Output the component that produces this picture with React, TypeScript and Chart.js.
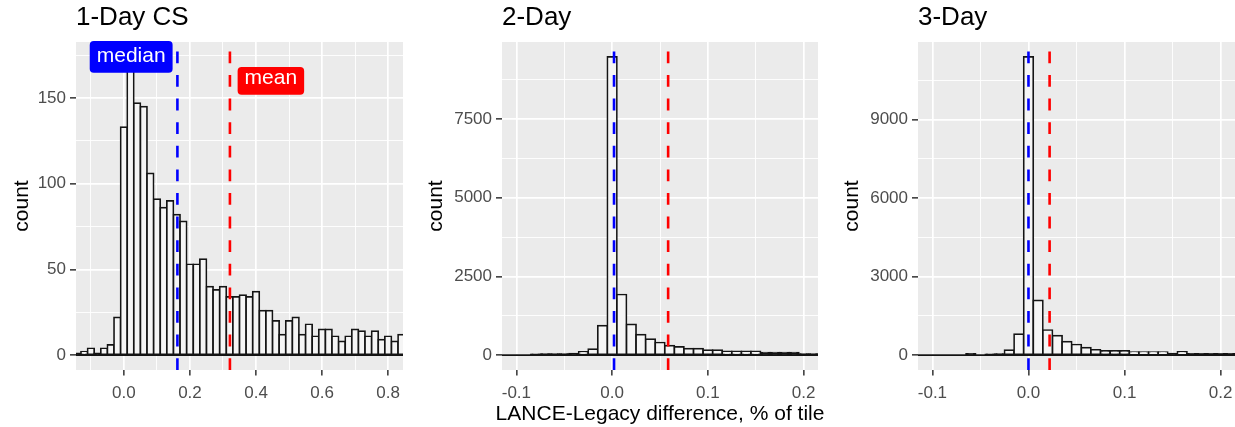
import React, { useEffect, useRef } from "react";
import { Chart, registerables } from "chart.js";

Chart.register(...registerables);

const FONT = "'Liberation Sans', Arial, Helvetica, sans-serif";

// ---------- Panel 1: 1-Day CS (bin width 0.02) ----------
const bins1 = [-0.14, -0.12, -0.10, -0.08, -0.06, -0.04, -0.02, 0.00, 0.02, 0.04, 0.06, 0.08, 0.10, 0.12, 0.14, 0.16, 0.18, 0.20, 0.22, 0.24, 0.26, 0.28, 0.30, 0.32, 0.34, 0.36, 0.38, 0.40, 0.42, 0.44, 0.46, 0.48, 0.50, 0.52, 0.54, 0.56, 0.58, 0.60, 0.62, 0.64, 0.66, 0.68, 0.70, 0.72, 0.74, 0.76, 0.78, 0.80, 0.82, 0.84];
const counts1 = [1, 2, 4, 1, 4, 6, 22, 133, 172, 147, 145, 106, 91, 86, 90, 82, 78, 53, 53, 56, 40, 38, 40, 34, 34, 35, 34, 37, 26, 26, 20, 12, 20, 22, 12, 18, 11, 15, 15, 11, 8, 11, 15, 14, 11, 14, 9, 11, 8, 12];
const median1 = 0.162;
const mean1 = 0.321;
const xLimits1 = [-0.1, 0.8];
const yLimits1 = [0, 174];
const xMajor1 = [0, 0.2, 0.4, 0.6, 0.8];
const xMajorLabels1 = ["0.0", "0.2", "0.4", "0.6", "0.8"];
const xMinor1 = [-0.1, 0.1, 0.3, 0.5, 0.7];
const yMajor1 = [0, 50, 100, 150];
const yMinor1 = [25, 75, 125, 175];
const statLabels1 = [
  { text: "median", x: 0.022, y: 174, color: "#0000FF" },
  { text: "mean", x: 0.445, y: 160, color: "#FF0000" },
];

// ---------- Panel 2: 2-Day (bin width 0.01) ----------
const bins2 = [-0.12, -0.11, -0.10, -0.09, -0.08, -0.07, -0.06, -0.05, -0.04, -0.03, -0.02, -0.01, 0.00, 0.01, 0.02, 0.03, 0.04, 0.05, 0.06, 0.07, 0.08, 0.09, 0.10, 0.11, 0.12, 0.13, 0.14, 0.15, 0.16, 0.17, 0.18, 0.19, 0.20, 0.21, 0.22];
const counts2 = [0, 0, 0, 0, 25, 30, 30, 35, 45, 105, 190, 935, 9470, 1925, 975, 650, 505, 400, 300, 262, 205, 205, 160, 160, 115, 115, 115, 115, 78, 78, 78, 78, 30, 30, 35];
const median2 = 0.002;
const mean2 = 0.0585;
const xLimits2 = [-0.1, 0.2];
const yLimits2 = [0, 9470];
const xMajor2 = [-0.1, 0, 0.1, 0.2];
const xMajorLabels2 = ["-0.1", "0.0", "0.1", "0.2"];
const xMinor2 = [-0.05, 0.05, 0.15];
const yMajor2 = [0, 2500, 5000, 7500];
const yMinor2 = [1250, 3750, 6250, 8750];

// ---------- Panel 3: 3-Day (bin width 0.01) ----------
const bins3 = [-0.12, -0.11, -0.10, -0.09, -0.08, -0.07, -0.06, -0.05, -0.04, -0.03, -0.02, -0.01, 0.00, 0.01, 0.02, 0.03, 0.04, 0.05, 0.06, 0.07, 0.08, 0.09, 0.10, 0.11, 0.12, 0.13, 0.14, 0.15, 0.16, 0.17, 0.18, 0.19, 0.20, 0.21, 0.22];
const counts3 = [0, 0, 0, 0, 0, 0, 50, 0, 30, 40, 190, 800, 11400, 2090, 960, 745, 515, 405, 285, 205, 165, 165, 165, 115, 115, 115, 115, 60, 125, 45, 45, 45, 45, 45, 45];
const median3 = 0.0;
const mean3 = 0.022;
const xLimits3 = [-0.1, 0.2];
const yLimits3 = [0, 11400];
const xMajor3 = [-0.1, 0, 0.1, 0.2];
const xMajorLabels3 = ["-0.1", "0.0", "0.1", "0.2"];
const xMinor3 = [-0.05, 0.05, 0.15];
const yMajor3 = [0, 3000, 6000, 9000];
const yMinor3 = [1500, 4500, 7500, 10500];

const X_TITLE = "LANCE-Legacy difference, % of tile";

const OUTLINE = "#141414";

const panelBg = {
  id: "panelBg",
  beforeDraw(chart: any) {
    const { ctx, chartArea: a } = chart;
    ctx.save();
    ctx.fillStyle = "#EBEBEB";
    ctx.fillRect(a.left, a.top, a.right - a.left, a.bottom - a.top);
    ctx.restore();
  },
};

const statLabelPlugin = {
  id: "statLabels",
  afterDatasetsDraw(chart: any, _args: any, opts: any) {
    const items = (opts && opts.items) || [];
    if (!items.length) return;
    const ctx = chart.ctx;
    const xs = chart.scales.x;
    const ys = chart.scales.y;
    const size = 21;
    ctx.save();
    ctx.font = `${size}px ${FONT}`;
    for (const it of items) {
      const cx = xs.getPixelForValue(it.x);
      const cy = ys.getPixelForValue(it.y);
      const m = ctx.measureText(it.text);
      const asc = m.actualBoundingBoxAscent;
      const desc = size * 0.212;
      const padX = 7;
      const padY = 6.2;
      const w = m.width + 2 * padX;
      const h = asc + desc + 2 * padY;
      const x0 = cx - w / 2;
      const y0 = cy - h / 2;
      const r = 4;
      ctx.beginPath();
      ctx.moveTo(x0 + r, y0);
      ctx.lineTo(x0 + w - r, y0);
      ctx.quadraticCurveTo(x0 + w, y0, x0 + w, y0 + r);
      ctx.lineTo(x0 + w, y0 + h - r);
      ctx.quadraticCurveTo(x0 + w, y0 + h, x0 + w - r, y0 + h);
      ctx.lineTo(x0 + r, y0 + h);
      ctx.quadraticCurveTo(x0, y0 + h, x0, y0 + h - r);
      ctx.lineTo(x0, y0 + r);
      ctx.quadraticCurveTo(x0, y0, x0 + r, y0);
      ctx.closePath();
      ctx.fillStyle = it.color;
      ctx.fill();
      ctx.fillStyle = "#FFFFFF";
      ctx.textAlign = "center";
      ctx.textBaseline = "alphabetic";
      ctx.fillText(it.text, cx, y0 + h - padY - desc);
    }
    ctx.restore();
  },
};

const xTitlePlugin = {
  id: "xTitle",
  afterDraw(chart: any, _args: any, opts: any) {
    if (!opts || !opts.text) return;
    const { ctx, chartArea: a } = chart;
    ctx.save();
    ctx.font = `21px ${FONT}`;
    ctx.fillStyle = "#000000";
    ctx.textAlign = "center";
    ctx.textBaseline = "alphabetic";
    ctx.fillText(opts.text, (a.left + a.right) / 2, chart.height - 7);
    ctx.restore();
  },
};

type Lbl = { text: string; x: number; y: number; color: string };
type PanelProps = {
  left: number;
  width: number;
  axisWidth: number;
  padRight: number;
  yTitlePad: number;
  title: string;
  xTitle: string;
  bins: number[];
  counts: number[];
  binWidth: number;
  median: number;
  mean: number;
  xLimits: number[];
  yLimits: number[];
  xMajor: number[];
  xMajorLabels: string[];
  xMinor: number[];
  yMajor: number[];
  yMinor: number[];
  labels: Lbl[];
};

function HistPanel(p: PanelProps) {
  const ref = useRef<HTMLCanvasElement>(null);
  useEffect(() => {
    const [xl, xh] = p.xLimits;
    const xr = xh - xl;
    const xMin = xl - 0.05 * xr;
    const xMax = xh + 0.05 * xr;
    const [yl, yh] = p.yLimits;
    const yr = yh - yl;
    const yMin = yl - 0.05 * yr;
    const yMax = yh + 0.05 * yr;
    const xTicks = [...p.xMajor, ...p.xMinor].sort((a, b) => a - b);
    const yTicks = [...p.yMajor, ...p.yMinor].sort((a, b) => a - b);
    const isXMajor = (v: number) => p.xMajor.indexOf(v) >= 0;
    const isYMajor = (v: number) => p.yMajor.indexOf(v) >= 0;
    const half = p.binWidth / 2;

    const barFill = (c: any) => {
      const ys = c.chart.scales.y;
      const raw = c.raw;
      if (!ys || !raw) return "#F5F5F5";
      const hPx = Math.abs(ys.getPixelForValue(0) - ys.getPixelForValue(raw.y));
      return hPx < 2.5 ? OUTLINE : "#F5F5F5";
    };

    const chart = new Chart(ref.current as HTMLCanvasElement, {
      type: "bar",
      data: {
        datasets: [
          {
            type: "line",
            label: "median",
            data: [
              { x: p.median, y: yMin },
              { x: p.median, y: yMax },
            ],
            borderColor: "#0000FF",
            borderWidth: 2.6,
            borderDash: [11.8, 11.8],
            pointRadius: 0,
            fill: false,
            order: 0,
          },
          {
            type: "line",
            label: "mean",
            data: [
              { x: p.mean, y: yMin },
              { x: p.mean, y: yMax },
            ],
            borderColor: "#FF0000",
            borderWidth: 2.6,
            borderDash: [11.8, 11.8],
            pointRadius: 0,
            fill: false,
            order: 0,
          },
          {
            type: "line",
            label: "baseline",
            data: [
              { x: p.bins[0] - half, y: 0 },
              { x: p.bins[p.bins.length - 1] + half, y: 0 },
            ],
            borderColor: OUTLINE,
            borderWidth: 1.7,
            pointRadius: 0,
            fill: false,
            order: 1,
          },
          {
            type: "bar",
            label: "count",
            data: p.bins.map((b, i) => ({ x: b, y: p.counts[i] })),
            backgroundColor: barFill,
            borderColor: OUTLINE,
            borderWidth: 1.7,
            inflateAmount: 0.85,
            borderSkipped: false,
            barPercentage: 1,
            categoryPercentage: 1,
            clip: { left: 0, right: 0, top: 0, bottom: 0 },
            order: 2,
          } as any,
        ],
      },
      options: {
        animation: false,
        responsive: false,
        devicePixelRatio: 1,
        layout: { padding: { left: 0, right: p.padRight, top: 0, bottom: 0 } },
        plugins: {
          legend: { display: false },
          tooltip: { enabled: false },
          title: {
            display: true,
            text: p.title,
            align: "start",
            fullSize: false,
            color: "#000000",
            font: { family: FONT, size: 26, weight: "normal", lineHeight: 1.2 },
            padding: { top: 2.4, bottom: 8.4 },
          },
          statLabels: { items: p.labels },
          xTitle: { text: p.xTitle },
        } as any,
        scales: {
          x: {
            type: "linear",
            min: xMin,
            max: xMax,
            bounds: "data",
            offset: false,
            afterBuildTicks: (s: any) => {
              s.ticks = xTicks.map((v) => ({ value: v }));
            },
            afterFit: (s: any) => {
              s.height = 57;
              s.paddingLeft = 0;
              s.paddingRight = 0;
            },
            ticks: {
              autoSkip: false,
              maxRotation: 0,
              minRotation: 0,
              padding: 8,
              color: "#4D4D4D",
              font: { family: FONT, size: 17 },
              callback: (v: any) => {
                const i = p.xMajor.indexOf(v);
                return i >= 0 ? p.xMajorLabels[i] : "";
              },
            },
            grid: {
              offset: false,
              color: "#FFFFFF",
              lineWidth: (c: any) => (c.tick && isXMajor(c.tick.value) ? 1.7 : 0.9),
              tickColor: (c: any) => (c.tick && isXMajor(c.tick.value) ? "#333333" : "rgba(0,0,0,0)"),
              tickWidth: 1.5,
              tickLength: 5.5,
              drawTicks: true,
            },
            border: { display: false },
            title: { display: false },
          },
          y: {
            type: "linear",
            min: yMin,
            max: yMax,
            bounds: "data",
            afterBuildTicks: (s: any) => {
              s.ticks = yTicks.map((v) => ({ value: v }));
            },
            afterFit: (s: any) => {
              s.width = p.axisWidth;
              s.paddingTop = 0;
              s.paddingBottom = 0;
            },
            ticks: {
              autoSkip: false,
              padding: 4,
              color: "#4D4D4D",
              font: { family: FONT, size: 17 },
              callback: (v: any) => (isYMajor(v) ? String(v) : ""),
            },
            grid: {
              color: "#FFFFFF",
              lineWidth: (c: any) => (c.tick && isYMajor(c.tick.value) ? 1.7 : 0.9),
              tickColor: (c: any) => (c.tick && isYMajor(c.tick.value) ? "#333333" : "rgba(0,0,0,0)"),
              tickWidth: 1.5,
              tickLength: 6,
              drawTicks: true,
            },
            border: { display: false },
            title: {
              display: true,
              text: "count",
              color: "#000000",
              font: { family: FONT, size: 21, lineHeight: 1.2 },
              padding: { top: p.yTitlePad, bottom: 0 },
            },
          },
        } as any,
      },
      plugins: [panelBg, statLabelPlugin, xTitlePlugin],
    });
    return () => chart.destroy();
  }, []);

  return (
    <div style={{ position: "absolute", left: p.left, top: 0, width: p.width, height: 427 }}>
      <canvas ref={ref} width={p.width} height={427} style={{ display: "block", width: p.width, height: 427 }} />
    </div>
  );
}

export default function App() {
  return (
    <div style={{ position: "absolute", left: 0, top: 0, width: 1235, height: 427, background: "#FFFFFF", overflow: "hidden" }}>
      <HistPanel
        left={0}
        width={410}
        axisWidth={76}
        padRight={7}
        yTitlePad={9.2}
        title="1-Day CS"
        xTitle=""
        bins={bins1}
        counts={counts1}
        binWidth={0.02}
        median={median1}
        mean={mean1}
        xLimits={xLimits1}
        yLimits={yLimits1}
        xMajor={xMajor1}
        xMajorLabels={xMajorLabels1}
        xMinor={xMinor1}
        yMajor={yMajor1}
        yMinor={yMinor1}
        labels={statLabels1}
      />
      <HistPanel
        left={410}
        width={420}
        axisWidth={92}
        padRight={12}
        yTitlePad={13.7}
        title="2-Day"
        xTitle={X_TITLE}
        bins={bins2}
        counts={counts2}
        binWidth={0.01}
        median={median2}
        mean={mean2}
        xLimits={xLimits2}
        yLimits={yLimits2}
        xMajor={xMajor2}
        xMajorLabels={xMajorLabels2}
        xMinor={xMinor2}
        yMajor={yMajor2}
        yMinor={yMinor2}
        labels={[]}
      />
      <HistPanel
        left={830}
        width={405}
        axisWidth={88}
        padRight={0}
        yTitlePad={9.7}
        title="3-Day"
        xTitle=""
        bins={bins3}
        counts={counts3}
        binWidth={0.01}
        median={median3}
        mean={mean3}
        xLimits={xLimits3}
        yLimits={yLimits3}
        xMajor={xMajor3}
        xMajorLabels={xMajorLabels3}
        xMinor={xMinor3}
        yMajor={yMajor3}
        yMinor={yMinor3}
        labels={[]}
      />
    </div>
  );
}
